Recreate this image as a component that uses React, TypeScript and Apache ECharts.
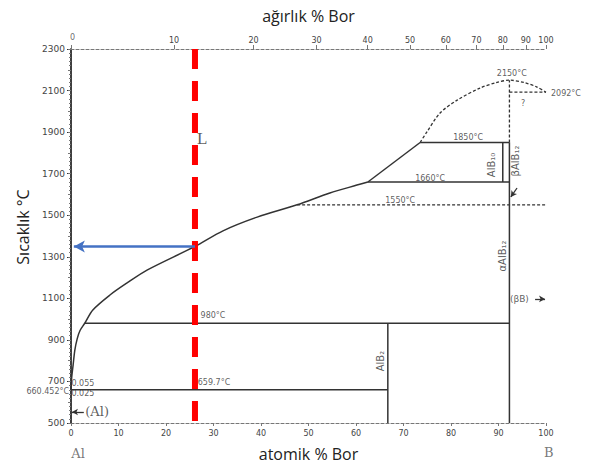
import React, { useEffect, useRef } from "react";
import * as echarts from "echarts";

// ---- tick labels ----
const tempTicks = [500, 700, 900, 1100, 1300, 1500, 1700, 1900, 2100, 2300];
const atomicTicks = [0, 10, 20, 30, 40, 50, 60, 70, 80, 90, 100];
const weightTicks = [0, 10, 20, 30, 40, 50, 60, 70, 80, 90, 100];

// molar masses for the atomic% <-> weight% conversion of the top axis
const M_AL = 26.98;
const M_B = 10.81;
const wtToAt = (w: number) => {
  if (w <= 0) return 0;
  if (w >= 100) return 100;
  const a = w / M_B;
  const b = (100 - w) / M_AL;
  return (100 * a) / (a + b);
};
const atToWt = (x: number) => {
  const a = x * M_B;
  const b = (100 - x) * M_AL;
  return (100 * a) / (a + b);
};

// ---- phase boundaries [atomic % B, T °C] ----
const liquidusLower = [
  [0, 660.452], [0.15, 720], [0.45, 780], [0.8, 850], [1.3, 905], [1.9, 945],
  [2.9, 980], [4.6, 1044], [8.2, 1116], [11.8, 1174], [16, 1236], [26.1, 1350],
  [32, 1425], [39.2, 1491], [47.6, 1550], [54.5, 1607], [60.2, 1645], [62.5, 1660],
];
const liquidusUpper = [[62.5, 1660], [73.5, 1850]];
const liquidusDashed = [
  [73.5, 1850], [74.9, 1900], [77.7, 1992], [81.3, 2054], [86.1, 2112],
  [89.5, 2138], [92.3, 2150], [95.5, 2138], [98, 2118], [100, 2092],
];

const solidLines = [
  [[2.9, 980], [92.3, 980]],
  [[0, 659.7], [66.7, 659.7]],
  [[62.5, 1660], [92.3, 1660]],
  [[73.5, 1850], [92.3, 1850]],
  [[66.7, 500], [66.7, 980]],
  [[92.3, 500], [92.3, 1850]],
  [[90.9, 1660], [90.9, 1850]],
];
const dashedLines = [
  [[47.6, 1550], [100, 1550]],
  [[92.3, 2092], [100, 2092]],
  [[92.3, 1850], [92.3, 2150]],
];

// reference composition / temperature read-off
const refLine = [[26.1, 2300], [26.1, 500]];
const refArrow = [[26.1, 1350], [0.6, 1350]];

const smallArrows = [
  [[2.7, 553], [0.2, 553]],
  [[97.7, 1097], [99.8, 1097]],
  [[93.9, 1631], [92.6, 1588]],
];

// ---- annotations ----
const annotations = [
  { text: "0", x: 0.3, T: 2353, kind: "tick" },
  { text: "2150°C", x: 92.8, T: 2184, kind: "temp" },
  { text: "2092°C", x: 104.2, T: 2088, kind: "temp" },
  { text: "?", x: 95.2, T: 2040, kind: "temp" },
  { text: "1850°C", x: 83.6, T: 1876, kind: "temp" },
  { text: "1660°C", x: 75.6, T: 1679, kind: "temp" },
  { text: "1550°C", x: 69.3, T: 1573, kind: "temp" },
  { text: "980°C", x: 29.9, T: 1015, kind: "temp" },
  { text: "659.7°C", x: 30.1, T: 693, kind: "temp" },
  { text: "660.452°C", x: -0.4, T: 653, kind: "tempRight" },
  { text: "0.055", x: 2.5, T: 692, kind: "temp" },
  { text: "0.025", x: 2.5, T: 640, kind: "temp" },
  { text: "(Al)", x: 5.5, T: 553, kind: "serif" },
  { text: "AlB₂", x: 65.1, T: 798, kind: "phase" },
  { text: "AlB₁₀", x: 88.6, T: 1742, kind: "phase" },
  { text: "βAlB₁₂", x: 93.5, T: 1761, kind: "phase" },
  { text: "αAlB₁₂", x: 90.9, T: 1304, kind: "phase" },
  { text: "(βB)", x: 94.4, T: 1097, kind: "temp9" },
  { text: "L", x: 27.6, T: 1867, kind: "big" },
  { text: "Al", x: 1.5, T: 351, kind: "end" },
  { text: "B", x: 100.6, T: 360, kind: "end" },
];

const labelStyles: Record<string, any> = {
  tick: { fontSize: 8, fontFamily: "DejaVu Sans", color: "#444" },
  temp: { fontSize: 8, fontFamily: "DejaVu Sans", color: "#333" },
  temp9: { fontSize: 9, fontFamily: "DejaVu Sans", color: "#333" },
  tempRight: { fontSize: 8, fontFamily: "DejaVu Sans", color: "#333", align: "right" },
  serif: { fontSize: 13, fontFamily: "DejaVu Serif", color: "#333" },
  phase: { fontSize: 10, fontFamily: "DejaVu Sans", color: "#333", rotate: 90 },
  big: { fontSize: 17, fontFamily: "Liberation Serif", color: "#333" },
  end: { fontSize: 13, fontFamily: "DejaVu Serif", color: "#555" },
};

const INK = "#333";

export default function App() {
  const ref = useRef<HTMLDivElement>(null);
  useEffect(() => {
    if (!ref.current) return;
    const chart = echarts.init(ref.current, undefined, { renderer: "svg" });

    const lineSeries = (data: number[][], opts: any = {}) => ({
      type: "line",
      data,
      symbol: "none",
      smooth: opts.smooth ?? false,
      clip: false,
      silent: true,
      lineStyle: {
        color: opts.color ?? INK,
        width: opts.width ?? 1.5,
        type: opts.type ?? "solid",
        cap: "butt",
      },
      z: opts.z ?? 2,
    });

    const arrowSeries = (seg: number[][], color: string, width: number, size: number[]) => ({
      type: "line",
      data: [],
      silent: true,
      z: 4,
      markLine: {
        silent: true,
        animation: false,
        symbol: ["none", "arrow"],
        symbolSize: size,
        label: { show: false },
        lineStyle: { color, width, type: "solid" },
        data: [[{ coord: seg[0] }, { coord: seg[1] }]],
      },
    });

    const series: any[] = [
      lineSeries(liquidusLower, { smooth: 0.3 }),
      lineSeries(liquidusUpper),
      lineSeries(liquidusDashed, { smooth: 0.3, type: [3, 2], width: 1.3 }),
      ...solidLines.map((d) => lineSeries(d)),
      ...dashedLines.map((d) => lineSeries(d, { type: [3, 2], width: 1.3 })),
      lineSeries(refLine, { color: "#ff0000", width: 6, type: [20, 12], z: 3 }),
      arrowSeries(refArrow, "#4472c4", 2.5, [9, 11]),
      ...smallArrows.map((s) => arrowSeries(s, INK, 1.3, [5, 6])),
      {
        type: "scatter",
        clip: false,
        silent: true,
        symbolSize: 0,
        z: 5,
        data: annotations.map((a) => ({
          value: [a.x, a.T],
          label: { show: true, position: "inside", formatter: a.text, ...labelStyles[a.kind] },
        })),
      },
    ];

    const axisLabelFont = { fontSize: 8, color: "#444", fontFamily: "DejaVu Sans" };
    const nameFont = { fontSize: 16, color: "#222", fontFamily: "Open Sans" };

    chart.setOption({
      animation: false,
      grid: { left: 71, right: 47, top: 49, bottom: 43, outerBoundsMode: "none" },
      xAxis: [
        {
          type: "value",
          position: "bottom",
          min: 0,
          max: 100,
          interval: 10,
          name: "atomik % Bor",
          nameLocation: "middle",
          nameGap: 23,
          nameTextStyle: nameFont,
          axisLine: { show: true, lineStyle: { color: "#777", width: 1.2, type: [3, 2] } },
          axisTick: { show: true, length: 3, lineStyle: { color: "#777" } },
          axisLabel: {
            ...axisLabelFont,
            margin: 6,
            customValues: atomicTicks,
            formatter: (v: number) => String(v),
          },
          splitLine: { show: false },
        },
        {
          type: "value",
          position: "top",
          min: 0,
          max: 100,
          name: "ağırlık % Bor",
          nameLocation: "middle",
          nameGap: 25,
          nameTextStyle: nameFont,
          axisLine: { show: true, lineStyle: { color: "#777", width: 1.2, type: [3, 2] } },
          axisTick: {
            show: true,
            length: 4,
            lineStyle: { color: "#777" },
            customValues: weightTicks.map(wtToAt),
          },
          axisLabel: {
            ...axisLabelFont,
            margin: 5,
            showMaxLabel: true,
            customValues: weightTicks.filter((w) => w > 0).map(wtToAt),
            formatter: (v: number) => String(Math.round(atToWt(v))),
          },
          splitLine: { show: false },
        },
      ],
      yAxis: [
        {
          type: "value",
          position: "left",
          min: 500,
          max: 2300,
          interval: 100,
          name: "Sıcaklık °C",
          nameLocation: "middle",
          nameGap: 40,
          nameTextStyle: { ...nameFont, padding: [0, 0, 0, 18] },
          axisLine: { show: true, lineStyle: { color: INK, width: 1.5 } },
          axisTick: { show: true, length: 4, lineStyle: { color: INK }, customValues: tempTicks },
          minorTick: { show: true, splitNumber: 5, length: 2, lineStyle: { color: "#777" } },
          axisLabel: {
            ...axisLabelFont,
            fontSize: 9,
            margin: 6,
            customValues: tempTicks,
            formatter: (v: number) => String(v),
          },
          splitLine: { show: false },
        },
        {
          type: "value",
          position: "right",
          min: 500,
          max: 2300,
          interval: 100,
          axisLine: { show: true, lineStyle: { color: INK, width: 1.5 } },
          axisTick: { show: true, inside: true, length: 3, lineStyle: { color: "#777" } },
          axisLabel: { show: false },
          splitLine: { show: false },
        },
      ],
      series,
    });
    return () => chart.dispose();
  }, []);

  return (
    <div
      ref={ref}
      style={{ position: "fixed", left: 0, top: 0, width: 593, height: 466, background: "#fff" }}
    />
  );
}
